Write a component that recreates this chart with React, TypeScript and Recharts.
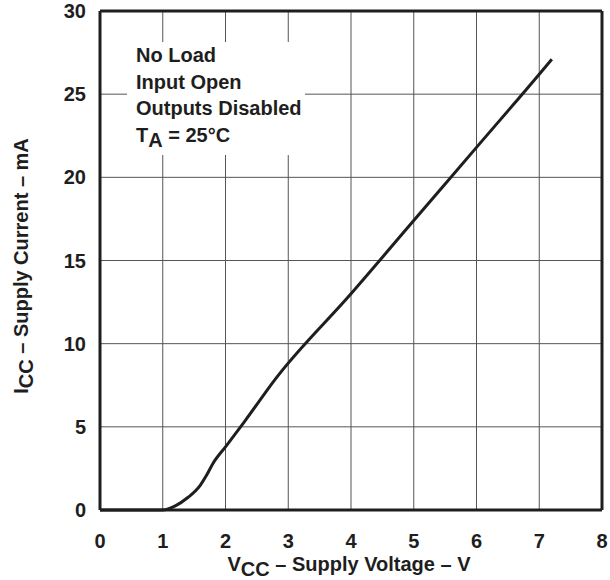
import React from "react";
import { LineChart, Line, XAxis, YAxis, CartesianGrid, ReferenceLine } from "recharts";

const voltage = [0, 1, 1.2, 1.4, 1.6, 1.7, 1.8, 2.0, 2.3, 2.8, 4.0, 5.0, 6.0, 7.0, 7.2];
const current = [0, 0, 0.25, 0.75, 1.5, 2.1, 2.8, 3.8, 5.3, 7.9, 13.0, 17.4, 21.8, 26.2, 27.1];
const xTicks = [0, 1, 2, 3, 4, 5, 6, 7, 8];
const yTicks = [0, 5, 10, 15, 20, 25, 30];
const notes = ["No Load", "Input Open", "Outputs Disabled"];

const data = voltage.map((v, i) => ({ v, i: current[i] }));

const FONT = "'Liberation Sans', Arial, sans-serif";
const INK = "#1e1e1e";

const XTick = (props: any) => {
  const { x, y, payload } = props;
  return (
    <text x={x} y={y + 30} textAnchor="middle" fontFamily={FONT} fontWeight="bold" fontSize={20} fill={INK}>
      {payload.value}
    </text>
  );
};

const YTick = (props: any) => {
  const { y, payload } = props;
  return (
    <text x={86} y={y + 7} textAnchor="end" fontFamily={FONT} fontWeight="bold" fontSize={20} fill={INK}>
      {payload.value}
    </text>
  );
};

const XLabel = () => (
  <text x={349} y={571} textAnchor="middle" fontFamily={FONT} fontWeight="bold" fontSize={20} fill={INK}>
    <tspan>V</tspan>
    <tspan dy={5}>CC</tspan>
    <tspan dy={-5}> – Supply Voltage – V</tspan>
  </text>
);

const YLabel = () => (
  <text
    x={0}
    y={0}
    transform="translate(28,266) rotate(-90)"
    textAnchor="middle"
    fontFamily={FONT}
    fontWeight="bold"
    fontSize={20}
    fill={INK}
  >
    <tspan>I</tspan>
    <tspan dy={5}>CC</tspan>
    <tspan dy={-5}> – Supply Current – mA</tspan>
  </text>
);

export default function App() {
  return (
    <div style={{ position: "absolute", left: 0, top: 0, width: 610, height: 580, background: "#fff" }}>
      <LineChart width={610} height={580} data={data} margin={{ top: 11, right: 8, left: 0, bottom: 0 }}>
        <CartesianGrid stroke="#555" strokeWidth={1} />
        <XAxis
          dataKey="v"
          type="number"
          domain={[0, 8]}
          ticks={xTicks}
          height={70}
          tickLine={false}
          axisLine={false}
          tick={<XTick />}
          label={<XLabel />}
        />
        <YAxis
          type="number"
          domain={[0, 30]}
          ticks={yTicks}
          width={100}
          tickLine={false}
          axisLine={false}
          tick={<YTick />}
          label={<YLabel />}
        />
        <ReferenceLine x={0} stroke={INK} strokeWidth={3} />
        <ReferenceLine x={8} stroke={INK} strokeWidth={3} />
        <ReferenceLine y={0} stroke={INK} strokeWidth={3} />
        <ReferenceLine y={30} stroke={INK} strokeWidth={3} />
        <Line
          dataKey="i"
          type="monotone"
          stroke={INK}
          strokeWidth={3}
          dot={false}
          isAnimationActive={false}
        />
      </LineChart>
      <div
        style={{
          position: "absolute",
          left: 127,
          top: 42,
          width: 178,
          height: 113,
          boxSizing: "border-box",
          paddingLeft: 9,
          paddingTop: 0,
          fontFamily: FONT,
          fontWeight: "bold",
          fontSize: 20,
          lineHeight: "26.7px",
          color: INK,
          background: "#fff",
          whiteSpace: "nowrap",
        }}
      >
        {notes.map((n) => (
          <div key={n}>{n}</div>
        ))}
        <div>
          T<sub style={{ fontSize: 20, verticalAlign: "-5px", lineHeight: 0 }}>A</sub> = 25°C
        </div>
      </div>
    </div>
  );
}
